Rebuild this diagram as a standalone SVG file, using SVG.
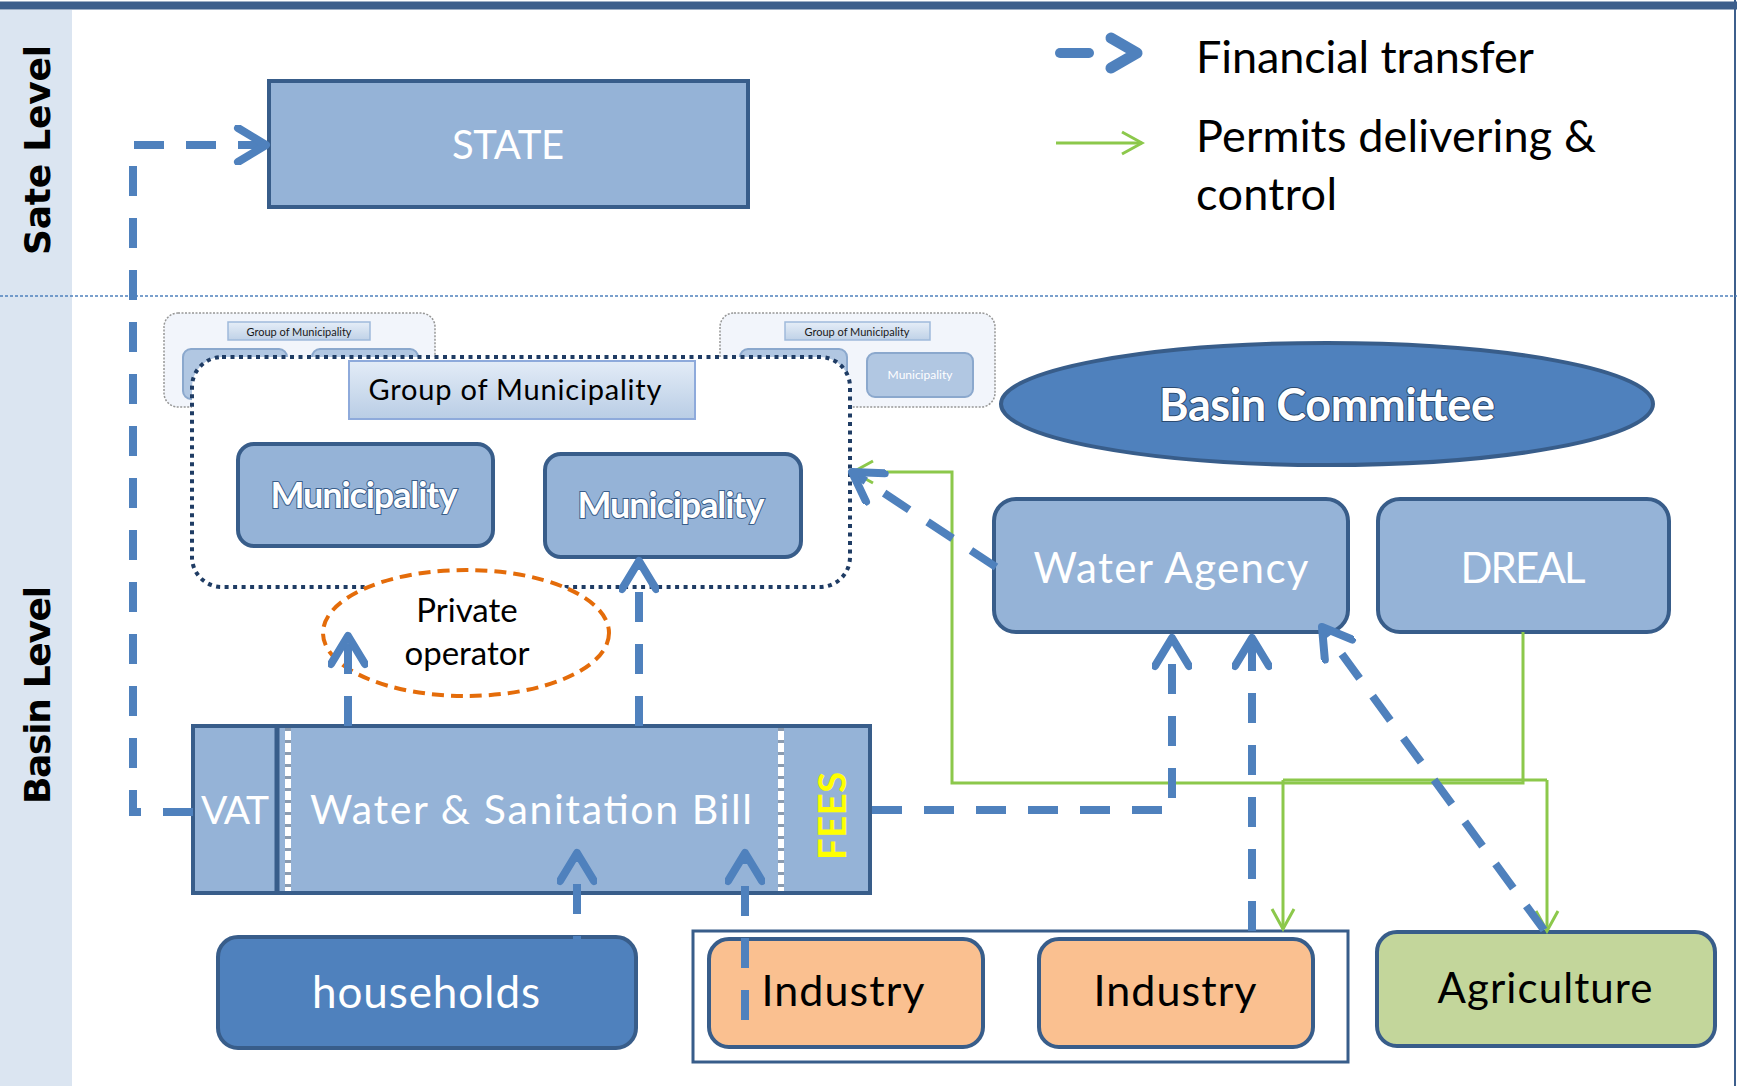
<svg xmlns="http://www.w3.org/2000/svg" width="1737" height="1086" viewBox="0 0 1737 1086">
<defs>
<style>
.box{fill:#95b3d7;stroke:#385d8a;stroke-width:4}
.dark{fill:#4f81bd;stroke:#385d8a;stroke-width:4}
.fin{fill:none;stroke:#4f81bd;stroke-width:8;stroke-dasharray:30 22}
.perm{fill:none;stroke:#8cc84b;stroke-width:3}
.t{font-family:Lato,"Open Sans","Liberation Sans",sans-serif}
.w{fill:#ffffff}
.k{fill:#000000}
.side{font-family:"DejaVu Sans","Liberation Sans",sans-serif;font-weight:bold;font-size:36px;fill:#000}
.faint{fill:#f1f5fb;stroke:#8c8c8c;stroke-width:1.5;stroke-dasharray:2 1.5}
.fmun{fill:#a9c1df;stroke:#7f9fc8;stroke-width:2}
</style>
<linearGradient id="lab" x1="0" y1="0" x2="0" y2="1">
<stop offset="0" stop-color="#e3ecf7"/>
<stop offset="1" stop-color="#b9cde5"/>
</linearGradient>
<marker id="fa" viewBox="0 0 40 40" markerWidth="40" markerHeight="40" refX="33" refY="20" orient="auto" markerUnits="userSpaceOnUse">
<path d="M5 3 L33 20 L5 37" fill="none" stroke="#4f81bd" stroke-width="8" stroke-linejoin="round" stroke-linecap="round"/>
</marker>
<marker id="ga" viewBox="0 0 26 26" markerWidth="26" markerHeight="26" refX="23" refY="13" orient="auto" markerUnits="userSpaceOnUse">
<path d="M3 2 L23 13 L3 24" fill="none" stroke="#8cc84b" stroke-width="3"/>
</marker>
</defs>

<!-- background & frame -->
<rect x="0" y="0" width="1737" height="1086" fill="#ffffff"/>
<rect x="0" y="10" width="72" height="1076" fill="#dbe5f1"/>
<rect x="0" y="1.5" width="1737" height="8" fill="#3d5f8c"/>
<line x1="1735" y1="0" x2="1735" y2="1086" stroke="#3d5f8c" stroke-width="2"/>
<line x1="0" y1="296" x2="1737" y2="296" stroke="#4f81bd" stroke-width="1.5" stroke-dasharray="3 2"/>

<g id="label-state-level"><text class="side" transform="translate(50,150) rotate(-90)" text-anchor="middle" textLength="210">Sate Level</text></g>
<g id="label-basin-level"><text class="side" transform="translate(50,695) rotate(-90)" text-anchor="middle" textLength="218">Basin Level</text></g>

<!-- legend -->
<g id="legend">
<line x1="1060" y1="53" x2="1089" y2="53" stroke="#4f81bd" stroke-width="10" stroke-linecap="round"/>
<polyline points="1111,38 1137,53 1111,68" fill="none" stroke="#4f81bd" stroke-width="11" stroke-linejoin="round" stroke-linecap="round"/>
<text class="t k" x="1196" y="73" font-size="45" textLength="338">Financial transfer</text>
<line x1="1056" y1="143" x2="1142" y2="143" class="perm" marker-end="url(#ga)"/>
<text class="t k" x="1196" y="152" font-size="45" textLength="400">Permits delivering &amp;</text>
<text class="t k" x="1196" y="210" font-size="45" textLength="141">control</text>
</g>

<!-- STATE -->
<g id="state">
<rect x="269" y="81" width="479" height="126" class="box"/>
<text class="t w" x="508" y="159" font-size="40" text-anchor="middle" textLength="112">STATE</text>
</g>

<!-- faint background groups -->
<g id="group-left-faint" opacity="0.9">
<rect x="164" y="313" width="271" height="94" rx="14" class="faint"/>
<rect x="228" y="322" width="142" height="18" fill="url(#lab)" stroke="#95b3d7" stroke-width="1.5"/>
<text class="t k" x="299" y="335.5" font-size="11" text-anchor="middle" fill="#333">Group of Municipality</text>
<rect x="183" y="349" width="104" height="50" rx="8" class="fmun"/>
<rect x="312" y="349" width="106" height="50" rx="8" class="fmun"/>
</g>
<g id="group-right-faint" opacity="0.9">
<rect x="720" y="313" width="275" height="94" rx="14" class="faint"/>
<rect x="785" y="322" width="145" height="18" fill="url(#lab)" stroke="#95b3d7" stroke-width="1.5"/>
<text class="t k" x="857" y="335.5" font-size="11" text-anchor="middle" fill="#333">Group of Municipality</text>
<rect x="740" y="349" width="107" height="50" rx="8" class="fmun"/>
<rect x="867" y="353" width="106" height="44" rx="8" class="fmun"/>
<text class="t w" x="920" y="379" font-size="12" text-anchor="middle">Municipality</text>
</g>

<!-- main group of municipality -->
<g id="group-main">
<rect x="192" y="357" width="658" height="230" rx="30" fill="#ffffff" stroke="#1f3c64" stroke-width="4" stroke-dasharray="4 4.5"/>
<rect x="349" y="361" width="346" height="58" fill="url(#lab)" stroke="#8eaadb" stroke-width="2"/>
<text class="t k" x="515" y="400" font-size="29" text-anchor="middle" textLength="293">Group of Municipality</text>
</g>
<g id="municipality-1">
<rect x="238" y="444" width="255" height="102" rx="16" class="box"/>
<text class="t w" x="364" y="508" font-size="36" font-weight="bold" text-anchor="middle" textLength="187" stroke="#385d8a" stroke-width="2" paint-order="stroke">Municipality</text>
</g>
<g id="municipality-2">
<rect x="545" y="454" width="256" height="103" rx="16" class="box"/>
<text class="t w" x="671" y="518" font-size="36" font-weight="bold" text-anchor="middle" textLength="187" stroke="#385d8a" stroke-width="2" paint-order="stroke">Municipality</text>
</g>

<!-- private operator -->
<g id="private-operator">
<ellipse cx="466" cy="633" rx="143" ry="63" fill="#ffffff" stroke="#e46c0a" stroke-width="4" stroke-dasharray="12 7"/>
<text class="t k" x="467" y="622" font-size="33" text-anchor="middle">Private</text>
<text class="t k" x="467" y="665" font-size="33" text-anchor="middle">operator</text>
</g>

<!-- Basin committee -->
<g id="basin-committee">
<ellipse cx="1327" cy="404" rx="326" ry="61" class="dark"/>
<text class="t w" x="1327" y="421" font-size="45" font-weight="bold" text-anchor="middle" textLength="336" stroke="#2c4a70" stroke-width="2" paint-order="stroke">Basin Committee</text>
</g>

<!-- Water agency, DREAL -->
<g id="water-agency">
<rect x="994" y="499" width="354" height="133" rx="22" class="box"/>
<text class="t w" x="1171" y="583" font-size="42" text-anchor="middle" textLength="275">Water Agency</text>
</g>
<g id="dreal">
<rect x="1378" y="499" width="291" height="133" rx="22" class="box"/>
<text class="t w" x="1523" y="583" font-size="42" text-anchor="middle" textLength="125">DREAL</text>
</g>

<!-- bill -->
<g id="bill">
<rect x="193" y="726" width="677" height="167" class="box"/>
<line x1="277" y1="726" x2="277" y2="893" stroke="#385d8a" stroke-width="5"/>
<line x1="288" y1="728" x2="288" y2="891" stroke="#ffffff" stroke-width="6"/>
<line x1="288" y1="728" x2="288" y2="891" stroke="#8a9bb0" stroke-width="6" stroke-dasharray="3 9"/>
<line x1="781" y1="728" x2="781" y2="891" stroke="#ffffff" stroke-width="6"/>
<line x1="781" y1="728" x2="781" y2="891" stroke="#8a9bb0" stroke-width="6" stroke-dasharray="3 9"/>
<text class="t w" x="235" y="824" font-size="39" text-anchor="middle" textLength="68">VAT</text>
<text class="t w" x="531" y="824" font-size="41" text-anchor="middle" textLength="442">Water &amp; Sanitation Bill</text>
<text class="t" transform="translate(846,816) rotate(-90)" font-size="38" font-weight="bold" fill="#ffff00" text-anchor="middle" textLength="88">FEES</text>
</g>

<!-- bottom row -->
<g id="households">
<rect x="218" y="937" width="418" height="111" rx="20" class="dark"/>
<text class="t w" x="426" y="1008" font-size="44" text-anchor="middle" textLength="228">households</text>
</g>
<g id="industry-group">
<rect x="693" y="931" width="655" height="131" fill="#ffffff" stroke="#385d8a" stroke-width="3"/>
</g>
<g id="industry-1">
<rect x="709" y="939" width="274" height="108" rx="20" fill="#fac090" stroke="#385d8a" stroke-width="4"/>
<text class="t k" x="843" y="1006" font-size="43" text-anchor="middle" textLength="163">Industry</text>
</g>
<g id="industry-2">
<rect x="1039" y="939" width="274" height="108" rx="20" fill="#fac090" stroke="#385d8a" stroke-width="4"/>
<text class="t k" x="1175" y="1006" font-size="43" text-anchor="middle" textLength="163">Industry</text>
</g>
<g id="agriculture">
<rect x="1377" y="932" width="338" height="114" rx="20" fill="#c3d69b" stroke="#385d8a" stroke-width="4"/>
<text class="t k" x="1545" y="1003" font-size="42" text-anchor="middle" textLength="215">Agriculture</text>
</g>

<!-- connectors -->
<g id="connectors">
<path class="perm" d="M1523 632 V783 H952 V472 H853" marker-end="url(#ga)"/>
<path class="perm" d="M1283 780 H1547"/>
<path class="perm" d="M1283 780 V929" marker-end="url(#ga)"/>
<path class="perm" d="M1547 780 V931" marker-end="url(#ga)"/>

<path class="fin" d="M193 812 H133 V145 H266" marker-end="url(#fa)"/>
<path class="fin" d="M348 726 V636" marker-end="url(#fa)"/>
<path class="fin" d="M639 726 V561" marker-end="url(#fa)"/>
<path class="fin" d="M577 1018 V853" marker-end="url(#fa)" stroke="#6b97cc"/>
<path class="fin" d="M745 1020 V853" marker-end="url(#fa)"/>
<path class="fin" d="M872 810 H1172 V638" marker-end="url(#fa)"/>
<path class="fin" d="M1252 931 V638" marker-end="url(#fa)"/>
<path class="fin" d="M1544 930 L1322 627" marker-end="url(#fa)"/>
<path class="fin" d="M996 567 L852 472" marker-end="url(#fa)"/>
</g>
</svg>
